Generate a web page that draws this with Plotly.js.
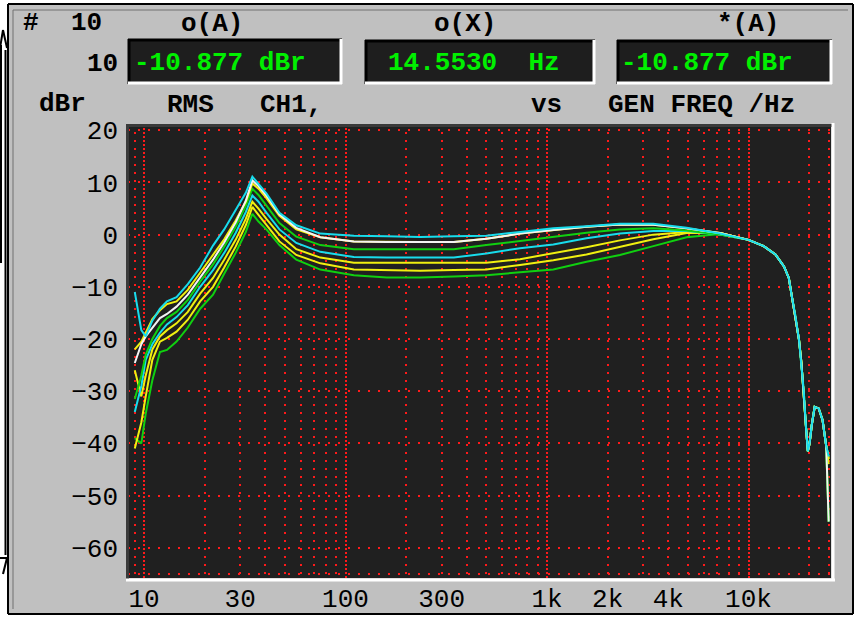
<!DOCTYPE html>
<html><head><meta charset="utf-8">
<script src="https://cdn.plot.ly/plotly-3.0.1.min.js"></script>
<style>html,body{margin:0;padding:0;background:#fff;}#chart{width:857px;height:617px;}</style>
</head><body><div id="chart"></div><script>
// ---------- data ----------
const freqHz = [9, 9.7, 10.2, 11, 12, 13, 14.5, 16.5, 19, 22, 25, 28.5, 32, 34.5, 37, 40.5, 47, 57, 75, 110, 160, 235, 345, 500, 735, 1075, 1570, 2300, 3370, 4930, 7220, 10000];
const tailFreqHz = [11900, 13600, 15000, 15850, 16400, 17100, 17800, 18300, 18800, 19300, 19700, 20100, 20600, 21300, 22300, 23300, 24300];
const tailDb = [-2.2, -3.8, -6.1, -8.3, -11.8, -15.6, -20.1, -24.5, -30, -37, -41.5, -40, -36.5, -33, -33.3, -35.5, -40.5];
const endFreqHz = 25000;

const greenLow   = [-39, -40, -34.3, -27.9, -22.5, -22.1, -20.5, -17.8, -14.2, -11.5, -7.5, -3.5, 0.5, 4.0, 2.5, 1.0, -2.0, -4.8, -6.7, -7.8, -8.2, -8.2, -8.0, -7.8, -7.2, -6.7, -5.2, -3.9, -2.2, -0.5, 0.1, -1.0];
const yellowLow  = [-41, -36, -31, -24, -20.5, -19.8, -18.6, -16.3, -12.8, -10, -6.3, -2.3, 1.8, 5.3, 3.8, 1.8, -1.3, -3.9, -5.5, -6.7, -6.8, -6.9, -6.8, -6.7, -5.8, -4.9, -3.8, -2.3, -0.9, 0.3, 0.3, -1.0];
const yellowMid  = [-26, -31, -27, -22, -19.5, -18.3, -17, -14.8, -11.3, -8.3, -4.8, -1.0, 3.0, 6.3, 5.0, 3.0, 0.0, -2.8, -4.4, -5.4, -5.4, -5.4, -5.4, -5.4, -4.7, -3.6, -2.4, -1.1, 0.0, 0.5, 0.3, -1.0];
const cyanMid    = [-34, -29, -24, -21, -18.8, -17.2, -15.8, -13.5, -10, -6.8, -3.5, 0.3, 4.3, 7.5, 6.3, 4.2, 1.0, -1.6, -3.3, -4.3, -4.4, -4.4, -4.4, -3.6, -2.6, -1.9, -0.7, 0.2, 0.7, 0.7, 0.0, -1.0];
const greenHigh  = [-31.5, -27, -23, -20, -17.5, -16, -14.8, -12.5, -9, -5.7, -2.3, 1.5, 5.5, 8.8, 7.6, 5.6, 2.2, -0.4, -2.0, -2.8, -2.8, -2.8, -2.8, -2.0, -1.2, -0.4, 0.35, 1.0, 1.2, 0.8, 0.0, -1.0];
const yellowHigh = [-22, -20.5, -18.8, -16.2, -14.5, -13.3, -12.8, -10.6, -7.3, -4.0, -0.9, 2.7, 6.3, 9.8, 8.8, 7.0, 3.6, 1.0, -0.5, -1.3, -1.4, -1.4, -1.4, -0.8, 0.2, 0.9, 1.5, 1.95, 1.9, 1.2, 0.3, -1.0];
const whiteHigh  = [-24.6, -21, -19.5, -17.8, -16, -15.2, -13.8, -11.5, -8.2, -4.8, -1.5, 2.3, 6.5, 10.4, 9.3, 7.5, 3.9, 1.3, -0.5, -1.3, -1.4, -1.4, -1.4, -0.8, 0.2, 0.9, 1.5, 1.95, 1.9, 1.2, 0.3, -1.0];
const cyanTop    = [-11, -18.3, -19.5, -16.5, -14.2, -12.8, -12, -9.5, -6.3, -2.1, 1.0, 4.7, 8.0, 11.1, 9.7, 7.9, 4.2, 1.8, 0.2, -0.2, -0.3, -0.45, -0.3, -0.2, 0.5, 1.2, 1.6, 2.1, 2.1, 1.3, 0.2, -1.0];

const seriesNames = ['greenLow','yellowLow','yellowMid','cyanMid','greenHigh','yellowHigh','whiteHigh','cyanTop'];
const seriesLow   = [greenLow, yellowLow, yellowMid, cyanMid, greenHigh, yellowHigh, whiteHigh, cyanTop];
const seriesEndDb = [-55, -44, -43, -42.5, -55, -43, -55, -42.5];
const seriesColor = ['#10d010', '#f0f010', '#f0f010', '#18dcec', '#10d010', '#f0f010', '#f4f4f4', '#18dcec'];

const xTickVals = [10, 30, 100, 300, 1000, 2000, 4000, 10000];
const xTickText = ['10', '30', '100', '300', '1k', '2k', '4k', '10k'];
const xMajorGrid = [10, 100, 1000, 10000];
const xMinorGrid = [9, 20, 30, 40, 50, 60, 70, 80, 90, 200, 300, 400, 500, 600, 700, 800, 900, 2000, 3000, 4000, 5000, 6000, 7000, 8000, 9000, 20000, 25000];
const yTickVals = [-60, -50, -40, -30, -20, -10, 0, 10, 20];

// ---------- geometry ----------
const PL = 128, PR = 831, PT = 124, PB = 578;
const px = x => (x - PL) / (PR - PL);
const py = y => (PB - y) / (PB - PT);
const xRange = [0.9206, 4.4094];
const yRange = [-65.8, 21.2];

const traces = seriesLow.map((arr, i) => ({
  x: freqHz.concat(tailFreqHz, [endFreqHz]),
  y: arr.concat(tailDb, [seriesEndDb[i]]),
  type: 'scatter', mode: 'lines', name: seriesNames[i],
  line: {color: seriesColor[i], width: 2},
  hoverinfo: 'skip', showlegend: false
}));
traces.push({x: [], y: [], xaxis: 'x2', yaxis: 'y', type: 'scatter', mode: 'lines', showlegend: false, hoverinfo: 'skip'});

const FONT = 'Liberation Mono, Courier New, monospace';
const RED = '#ff1a1a';
function label(text, x, y, extra) {
  return Object.assign({xref: 'paper', yref: 'paper', x: px(x), y: py(y), xanchor: 'left', yanchor: 'middle',
    showarrow: false, text: text, borderpad: 0,
    font: {family: FONT, size: 26, color: '#000', weight: 700}}, extra || {});
}
const green = {font: {family: FONT, size: 26, color: '#00f000', weight: 700}};

function line(x0, y0, x1, y1, color, w) {
  return {type: 'line', xref: 'paper', yref: 'paper', x0: px(x0), y0: py(y0), x1: px(x1), y1: py(y1),
    line: {color: color, width: w}, layer: 'above'};
}
function rect(x0, y0, x1, y1, fill) {
  return {type: 'rect', xref: 'paper', yref: 'paper', x0: px(x0), y0: py(y0), x1: px(x1), y1: py(y1),
    fillcolor: fill, line: {width: 0}, layer: 'above'};
}
function box(x0, y0, x1, y1) {
  return [rect(x0, y0, x1, y1, '#1e1e1e'),
    line(x0, y0 + 1, x1, y0 + 1, '#000', 3), line(x0 + 1, y0, x0 + 1, y1, '#000', 3),
    line(x0, y1 - 1, x1, y1 - 1, '#fff', 3), line(x1 - 1, y0, x1 - 1, y1, '#fff', 3)];
}

const shapes = [].concat(
  // white outside of the panel
  [rect(0, 0, 857, 4, '#fff'), rect(0, 0, 8, 617, '#fff'), rect(853, 0, 857, 617, '#fff'), rect(0, 614, 857, 617, '#fff')],
  // outer double frame
  [line(8, 4, 853, 4, '#000', 2), line(8, 4, 8, 614, '#000', 2), line(853, 4, 853, 614, '#000', 2), line(8, 614, 853, 614, '#000', 2),
   line(13, 10, 848, 10, '#707070', 1), line(13, 10, 13, 609, '#707070', 1)],
  // left margin marks
  [line(1, 45, 1, 263, '#000', 2), line(5.5, 50, 5.5, 555, '#000', 2),
   line(0, 48, 3, 30, '#000', 2), line(3, 30, 7, 48, '#000', 2), line(0, 558, 7, 558, '#000', 2), line(7, 558, 3, 574, '#000', 2)],
  // plot bevel
  [line(126, 125.5, 833, 125.5, '#3a3a3a', 3), line(127.5, 124, 127.5, 580, '#3a3a3a', 3),
   line(126, 580, 835, 580, '#fff', 3), line(833, 123, 833, 581, '#fff', 3)],
  box(128, 39, 342, 84), box(365, 40, 595, 84), box(617, 40, 832, 84)
);

const annotations = [
  label('#', 22, 23), label('10', 70, 23), label('o(A)', 180, 24), label('o(X)', 433, 24), label('*(A)', 716, 24),
  label('10', 86, 64),
  label('-10.877 dBr', 133, 63, green), label('14.5530\u00a0\u00a0Hz', 387, 63, green), label('-10.877 dBr', 620, 63, green),
  label('dBr', 38, 104), label('RMS', 166, 105), label('CH1,', 259, 105), label('vs', 530, 105), label('GEN FREQ /Hz', 607, 105)
];

const tickFont = {family: FONT, size: 26, color: '#000'};
const layout = {
  width: 857, height: 617,
  margin: {l: PL, r: 857 - PR, t: PT, b: 617 - PB, pad: 0},
  paper_bgcolor: '#c0c0c0', plot_bgcolor: '#202020',
  showlegend: false,
  xaxis: {type: 'log', range: xRange, tickmode: 'array', tickvals: xMajorGrid, showticklabels: false, ticks: '',
    showgrid: true, gridcolor: RED, gridwidth: 2, griddash: '2px,2px', zeroline: false, showline: false, fixedrange: true,
    minor: {tickmode: 'array', tickvals: xMinorGrid, showgrid: true, gridcolor: RED, gridwidth: 2, griddash: '2px,6px', ticks: ''}},
  xaxis2: {type: 'log', overlaying: 'x', anchor: 'y', side: 'bottom', range: xRange, tickmode: 'array',
    tickvals: xTickVals, ticktext: xTickText, showgrid: false, zeroline: false, showline: false, ticks: '',
    ticklabelstandoff: 2, tickfont: tickFont, fixedrange: true},
  yaxis: {range: yRange, tickmode: 'array', tickvals: yTickVals, showgrid: true, gridcolor: RED, gridwidth: 2,
    griddash: '2px,8px', zeroline: false, showline: false, ticks: '', ticklabelstandoff: 9, tickfont: tickFont, fixedrange: true,
    minor: {tickmode: 'array', tickvals: [-65], showgrid: true, gridcolor: RED, gridwidth: 2, griddash: '2px,8px', ticks: ''}},
  shapes: shapes,
  annotations: annotations
};

Plotly.newPlot('chart', traces, layout, {staticPlot: true, displayModeBar: false});
</script></body></html>
